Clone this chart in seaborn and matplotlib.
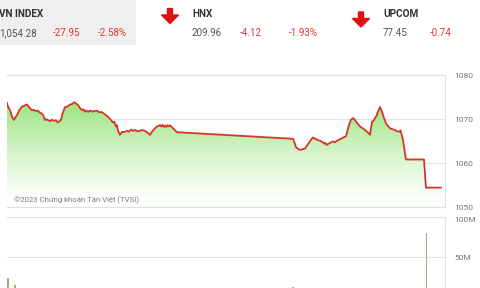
import numpy as np
import pandas as pd
import matplotlib
matplotlib.use("Agg")
import matplotlib.pyplot as plt
from matplotlib.patches import FancyArrow, Rectangle
import seaborn as sns

# ---- data (minutes since 9:00) ----
price_t = [0, 0.8, 2, 3, 4.5, 5.8, 7, 8.3, 10, 12.4, 14, 16.6, 18.5, 20.7, 22, 24, 25.5, 27.4,
           28.6, 29.9, 31.5, 33, 35.7, 37, 39, 40.5, 42.3, 44.8,
           46, 48.1, 50, 52.3, 54, 55.6, 57, 58.9, 60.5, 62.2, 63.5, 64.7, 66, 67.3, 68.8, 70.5,
           72.5, 74.7, 76.5, 78, 79.6, 81.5, 83.8, 85.5, 87.9, 89, 90.4, 91.2, 92.1,
           93.7, 95.4, 97, 99.5, 101, 103, 104.5, 106.2, 108, 110.3, 112, 114.5, 116.5,
           118.6, 120.5, 122.8, 124.5, 126.9, 128, 129, 130, 131.1, 132, 133, 134, 135.2,
           136.5, 137.7, 139.5, 141,
           237.2, 238.5, 239.7, 241.5, 243, 245, 247.2, 249, 251.3, 252.5, 253.8, 256, 258,
           260, 262.1, 263, 264, 265, 266.3, 268, 270.4, 272, 274, 276.2, 278.5,
           281.2, 282.9, 284, 285.3, 287, 288.3, 289.5, 291, 292.8, 294.5, 297, 299, 301.1,
           302.8, 304, 305.2, 306.5, 307.7, 308.5, 309.4, 310.2, 311, 312.5, 314.4, 316,
           317.7, 319.5, 321.8, 323.5, 325.2, 326.5, 327.6, 328.5, 329.3, 330.2, 331,
           345.9, 347.5, 360]
price_v = [1073.7, 1072.8, 1072.3, 1071.6, 1070.3, 1069.8, 1070.4, 1070.9, 1071.9, 1072.8,
           1073.0, 1073.3, 1072.6, 1072.0, 1072.1, 1071.8, 1071.9, 1071.4,
           1071.3, 1070.9, 1069.8, 1069.9, 1069.5, 1069.8, 1069.6, 1069.7, 1069.2, 1069.8,
           1071.2, 1072.7, 1072.8, 1073.3, 1073.4, 1073.8, 1073.6, 1073.2, 1072.5, 1072.0,
           1072.2, 1071.7, 1071.9, 1071.6, 1071.9, 1071.7, 1071.8, 1071.9, 1071.5, 1071.6,
           1071.4, 1071.0, 1070.5, 1070.0, 1069.2, 1069.4, 1068.3, 1068.6, 1067.3,
           1066.4, 1067.1, 1067.0, 1067.3, 1067.1, 1067.6, 1067.3, 1067.5, 1067.2, 1067.3,
           1067.5, 1067.3, 1066.9, 1066.4, 1067.2, 1067.9, 1068.3, 1068.6, 1068.3, 1068.7,
           1068.2, 1068.5, 1068.2, 1068.6, 1068.3, 1068.6, 1068.2, 1067.9, 1067.4, 1067.0,
           1065.5, 1064.6, 1063.6, 1063.2, 1063.0, 1063.1, 1063.3, 1064.0, 1064.9, 1065.4,
           1065.8, 1065.5, 1065.2, 1065.0, 1064.7, 1064.4, 1064.6, 1064.1, 1064.3, 1064.6,
           1064.9, 1064.7, 1065.1, 1065.4, 1065.7, 1066.1, 1067.9, 1068.9, 1069.8, 1070.2,
           1069.9, 1069.4, 1068.9, 1068.3, 1068.0, 1067.5, 1067.0, 1066.4, 1069.4, 1069.6,
           1070.2, 1070.7, 1071.7, 1072.1, 1072.7, 1072.2, 1071.7, 1070.4, 1069.0, 1068.4,
           1067.9, 1067.7, 1067.5, 1067.2, 1067.1, 1067.4, 1066.1, 1065.2, 1063.7, 1062.0,
           1060.8, 1060.8, 1054.4, 1054.4]

vol_t = [0.8, 6.6, 237.2, 348.0]
vol_v = [23.4, 15.0, 12.0, 79.6]   # millions

price_ticks = [1050, 1060, 1070, 1080]
vol_ticks = [50, 100]
vol_tick_labels = ["50M", "100M"]

header = [
    ("VN INDEX", "1,054.28", "-27.95", "-2.58%"),
    ("HNX", "209.96", "-4.12", "-1.93%"),
    ("UPCOM", "77.45", "-0.74", ""),
]

sns.set_theme(style="white")
plt.rcParams['font.family'] = ['Roboto', 'DejaVu Sans']

W, H = 480, 288
fig = plt.figure(figsize=(4.8, 2.88), dpi=100)
fig.patch.set_facecolor("white")

def fx(px):
    return px / W

def fy(py):
    return 1 - py / H

# ---- header ----
fig.patches.append(Rectangle((0, fy(45)), fx(136), 45 / H, transform=fig.transFigure,
                             facecolor="#efefef", edgecolor="none", zorder=0))
name_x = [-1, 192, 383]
val_x = [-1, 192, 383]
chg_x = [53, 240, 430]
pct_x = [98, 289, None]
red = "#e3342f"
for i, (nm, v, c, p) in enumerate(header):
    fig.text(fx(name_x[i]), fy(14), nm, fontsize=7.2, fontweight="bold", color="#333333",
             va="center", ha="left")
    fig.text(fx(val_x[i]), fy(33), v, fontsize=7, color="#555555", va="center", ha="left")
    fig.text(fx(chg_x[i]), fy(33), c, fontsize=7, color=red, va="center", ha="left")
    if p:
        fig.text(fx(pct_x[i]), fy(33), p, fontsize=7, color=red, va="center", ha="left")

for ax0, ytop in [(170, 8.5), (361, 12)]:
    fig.patches.append(FancyArrow(fx(ax0), fy(ytop), 0, -15 / H, width=5 / W,
                                  head_width=17 / W, head_length=8.5 / H,
                                  length_includes_head=True, transform=fig.transFigure,
                                  color="#e01010", zorder=3))

# ---- main price axes ----
ax = fig.add_axes([fx(7), fy(207), fx(438), 132 / H])
df = pd.DataFrame({"t": price_t, "v": price_v})
xmax = (445 - 7) / 1.2056
ax.set_xlim(0, xmax)
ax.set_ylim(1050, 1080)

poly = ax.fill_between(df["t"], df["v"], 1050, color="none")
grad = np.linspace(1, 0, 256).reshape(-1, 1)
top_c = np.array([0.58, 0.89, 0.46])
bot_c = np.array([1.0, 1.0, 1.0])
img = np.zeros((256, 1, 4))
for k in range(3):
    img[:, 0, k] = bot_c[k] + (top_c[k] - bot_c[k]) * grad[:, 0] ** 1.3
img[:, 0, 3] = 1
im = ax.imshow(img, aspect="auto", extent=[0, xmax, 1050, 1075], origin="upper", zorder=1)
path = poly.get_paths()[0]
im.set_clip_path(path, transform=ax.transData)

sns.lineplot(data=df, x="t", y="v", ax=ax, color="#d8352a", linewidth=1.3, zorder=3)

ax.set_yticks(price_ticks)
ax.yaxis.tick_right()
ax.tick_params(axis="y", length=0, pad=7, labelsize=6, labelcolor="#777777")
ax.set_xticks([])
ax.set_xlabel("")
ax.set_ylabel("")
ax.grid(axis="y", color="#e4e4e4", linewidth=0.8)
ax.set_axisbelow(True)
for s in ["top", "right", "bottom"]:
    ax.spines[s].set_color("#e0e0e0")
    ax.spines[s].set_linewidth(0.8)
ax.spines["left"].set_visible(False)
ax.text(6, 1051.6, "©2023 Chứng khoán Tân Việt (TVSI)", fontsize=5.6,
        color="#808080", va="center", ha="left", zorder=4)

# ---- volume axes ----
axv = fig.add_axes([fx(7), 0, fx(438), 71 / H])
axv.set_xlim(0, xmax)
axv.set_ylim(100 - 71 / 0.8, 100)
axv.bar(vol_t, vol_v, width=1.4, color="#8db878", linewidth=0)
axv.set_yticks(vol_ticks)
axv.set_yticklabels(vol_tick_labels)
axv.yaxis.tick_right()
axv.tick_params(axis="y", length=0, pad=7, labelsize=6, labelcolor="#777777")
for lbl in axv.get_yticklabels():
    if lbl.get_text() == "100M":
        lbl.set_verticalalignment("top")
axv.set_xticks([])
axv.grid(axis="y", color="#e4e4e4", linewidth=0.8)
axv.set_axisbelow(True)
for s in ["top", "right"]:
    axv.spines[s].set_color("#e0e0e0")
    axv.spines[s].set_linewidth(0.8)
axv.spines["left"].set_visible(False)
axv.spines["bottom"].set_visible(False)

fig.savefig("out.png", dpi=100)
